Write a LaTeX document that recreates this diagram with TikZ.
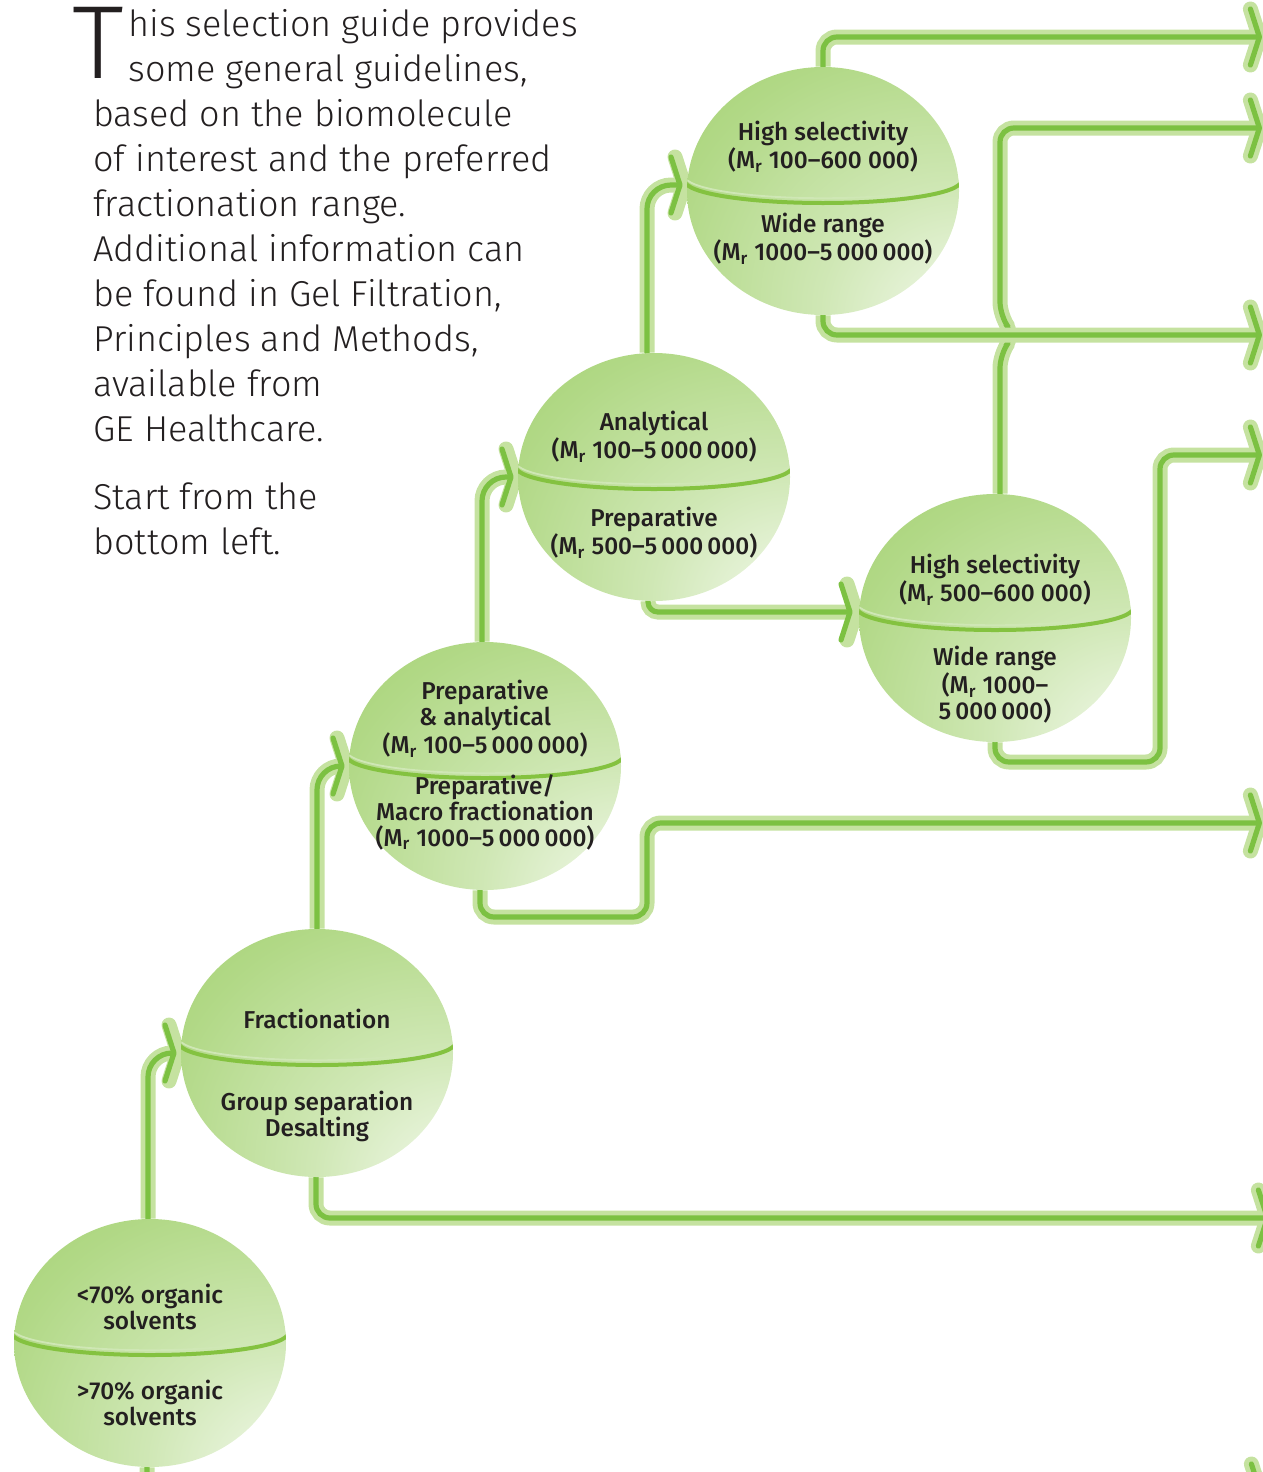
\documentclass[tikz,border=0pt]{standalone}
\usepackage{fontspec}
\setmainfont{Fira Sans}[UprightFont=* Light, BoldFont=* Medium]
\usepackage{tikz}
\usetikzlibrary{arrows.meta,shapes.geometric,backgrounds}

\definecolor{pipegreen}{RGB}{124,193,66}
\definecolor{pipepale}{RGB}{197,226,160}
\definecolor{sphgreen}{RGB}{136,196,70}
\definecolor{sphband}{RGB}{132,194,64}
\definecolor{textgray}{RGB}{35,31,32}
\colorlet{sphA}{white!85!sphgreen}
\colorlet{sphB}{white!60!sphgreen}
\colorlet{sphC}{white!35!sphgreen}
\colorlet{sphD}{white!15!sphgreen}

\pgfdeclareradialshading{sphereshade}{\pgfpoint{34bp}{-34bp}}{%
  color(0bp)=(white); color(10bp)=(sphA); color(25bp)=(sphB);
  color(45bp)=(sphC); color(65bp)=(sphD); color(90bp)=(sphgreen)}

\tikzset{
  sphere/.style={ellipse, minimum width=136pt, minimum height=124pt, inner sep=0pt,
    shading=sphereshade,
    path picture={
      \draw[line width=0.9pt, white!60!sphgreen]
        ([shift={(-69pt,7.4pt)}]path picture bounding box.center)
        arc[start angle=180, end angle=360, x radius=69pt, y radius=11pt];
      \draw[line width=2pt, sphband]
        ([shift={(-69pt,5pt)}]path picture bounding box.center)
        arc[start angle=180, end angle=360, x radius=69pt, y radius=11pt];
    }},
  sphtext/.style={font=\fontsize{12.2}{13}\selectfont\bfseries, text=textgray,
    align=center, inner sep=0pt},
  introtext/.style={anchor=base west, inner sep=0pt, text=textgray,
    font=\fontsize{18}{22}\selectfont},
  pipe/.style={draw=pipegreen, line width=2.6pt, line cap=round, rounded corners=7pt,
    -{Straight Barb[length=4.5pt, width=28pt, round]},
    preaction={draw=pipepale, line width=7.5pt, shorten >=-2.45pt}},
}

% sphere: name, position, upper shift, upper text, lower shift, lower text
\newcommand{\gfSphere}[6]{%
  \node[sphere] (#1) at (#2) {};
  \node[sphtext] (#1-top) at ([yshift=#3]#1.center) {#4};
  \node[sphtext] (#1-bot) at ([yshift=#5]#1.center) {#6};
}

\begin{document}
\begin{tikzpicture}[x=0.5pt, y=-0.5pt]
  \useasboundingbox (0,0) rectangle (1263,1472);

  % Intro text
  \node[introtext, font=\fontsize{52}{52}\selectfont] (dropcap) at (72,78) {T};
  \foreach \ln [count=\i from 0] in {{his selection guide provides},{some general guidelines,}}
    \node[introtext] (lead-\i) at (128,{36+45*\i}) {\ln};
  \foreach \ln [count=\i from 2] in {{based on the biomolecule},{of interest and the preferred},
      {fractionation range.},{Additional information can},{be found in Gel Filtration,},
      {Principles and Methods,},{available from},{GE Healthcare.}}
    \node[introtext] (body-\i) at (93,{36+45*\i}) {\ln};
  \node[introtext] (start-0) at (93,509) {Start from the};
  \node[introtext] (start-1) at (93,554) {bottom left.};

  % Spheres
  \gfSphere{s1}{150,1343}{18pt}{<70\% organic\\solvents}{-30pt}{>70\% organic\\solvents}
  \gfSphere{s2}{317,1053}{17pt}{Fractionation}{-31.5pt}{Group separation\\Desalting}
  \gfSphere{s3}{485,766}{23.5pt}{Preparative\\\&~analytical\\(M\textsubscript{r}~100--5\,000\,000)}%
    {-23pt}{Preparative/\\Macro fractionation\\(M\textsubscript{r}~1000--5\,000\,000)}
  \gfSphere{s4}{654,477}{20pt}{Analytical\\(M\textsubscript{r}~100--5\,000\,000)}%
    {-28pt}{Preparative\\(M\textsubscript{r}~500--5\,000\,000)}
  \gfSphere{s5}{823,191}{22pt}{High selectivity\\(M\textsubscript{r}~100--600~000)}%
    {-24pt}{Wide range\\(M\textsubscript{r}~1000--5\,000\,000)}
  \gfSphere{s6}{995,618}{19pt}{High selectivity\\(M\textsubscript{r}~500--600~000)}%
    {-33.5pt}{Wide range\\(M\textsubscript{r}~1000--\\5\,000\,000)}

  % Loose ends at the right edge
  \coordinate (out1) at (1262,37);
  \coordinate (out2) at (1262,128);
  \coordinate (out3) at (1262,335);
  \coordinate (out4) at (1262,455);
  \coordinate (out5) at (1262,823);
  \coordinate (out6) at (1270,1218);
  \coordinate (out7) at (1263,1492);

  % Connectors
  \begin{scope}[on background layer]
    \draw[pipe, rounded corners=12pt, shorten >=2pt] ([xshift=-1pt]s1.north) |- (s2.west);
    \draw[pipe, rounded corners=12pt, shorten >=2pt] (s2.north) |- (s3.west);
    \draw[pipe, rounded corners=12pt, shorten >=2pt] ([xshift=-1.5pt]s3.north) |- (s4.west);
    \draw[pipe, rounded corners=12pt, shorten >=2pt] ([xshift=-3.5pt]s4.north) |- ([yshift=3pt]s5.west);
    \draw[pipe, rounded corners=5pt, shorten >=3pt] ([xshift=-3pt]s4.south) |- ([yshift=3pt]s6.west);
    \draw[pipe] (s5.north) |- (out1);
    \draw[pipe] ([xshift=2.5pt]s6.north) -- (1000,354) -- (1014,335) -- (1000,316) |- (out2);
    \draw[pipe] (s5.south) |- (out3);
    \draw[pipe] (s6.south) |- (1160,762) |- (out4);
    \draw[pipe] ([xshift=-2.5pt]s3.south) |- (647,917) |- (out5);
    \draw[pipe] ([xshift=-0.5pt]s2.south) |- (out6);
    \draw[pipe] ([xshift=-1.5pt]s1.south) |- (out7);
  \end{scope}
\end{tikzpicture}
\end{document}
